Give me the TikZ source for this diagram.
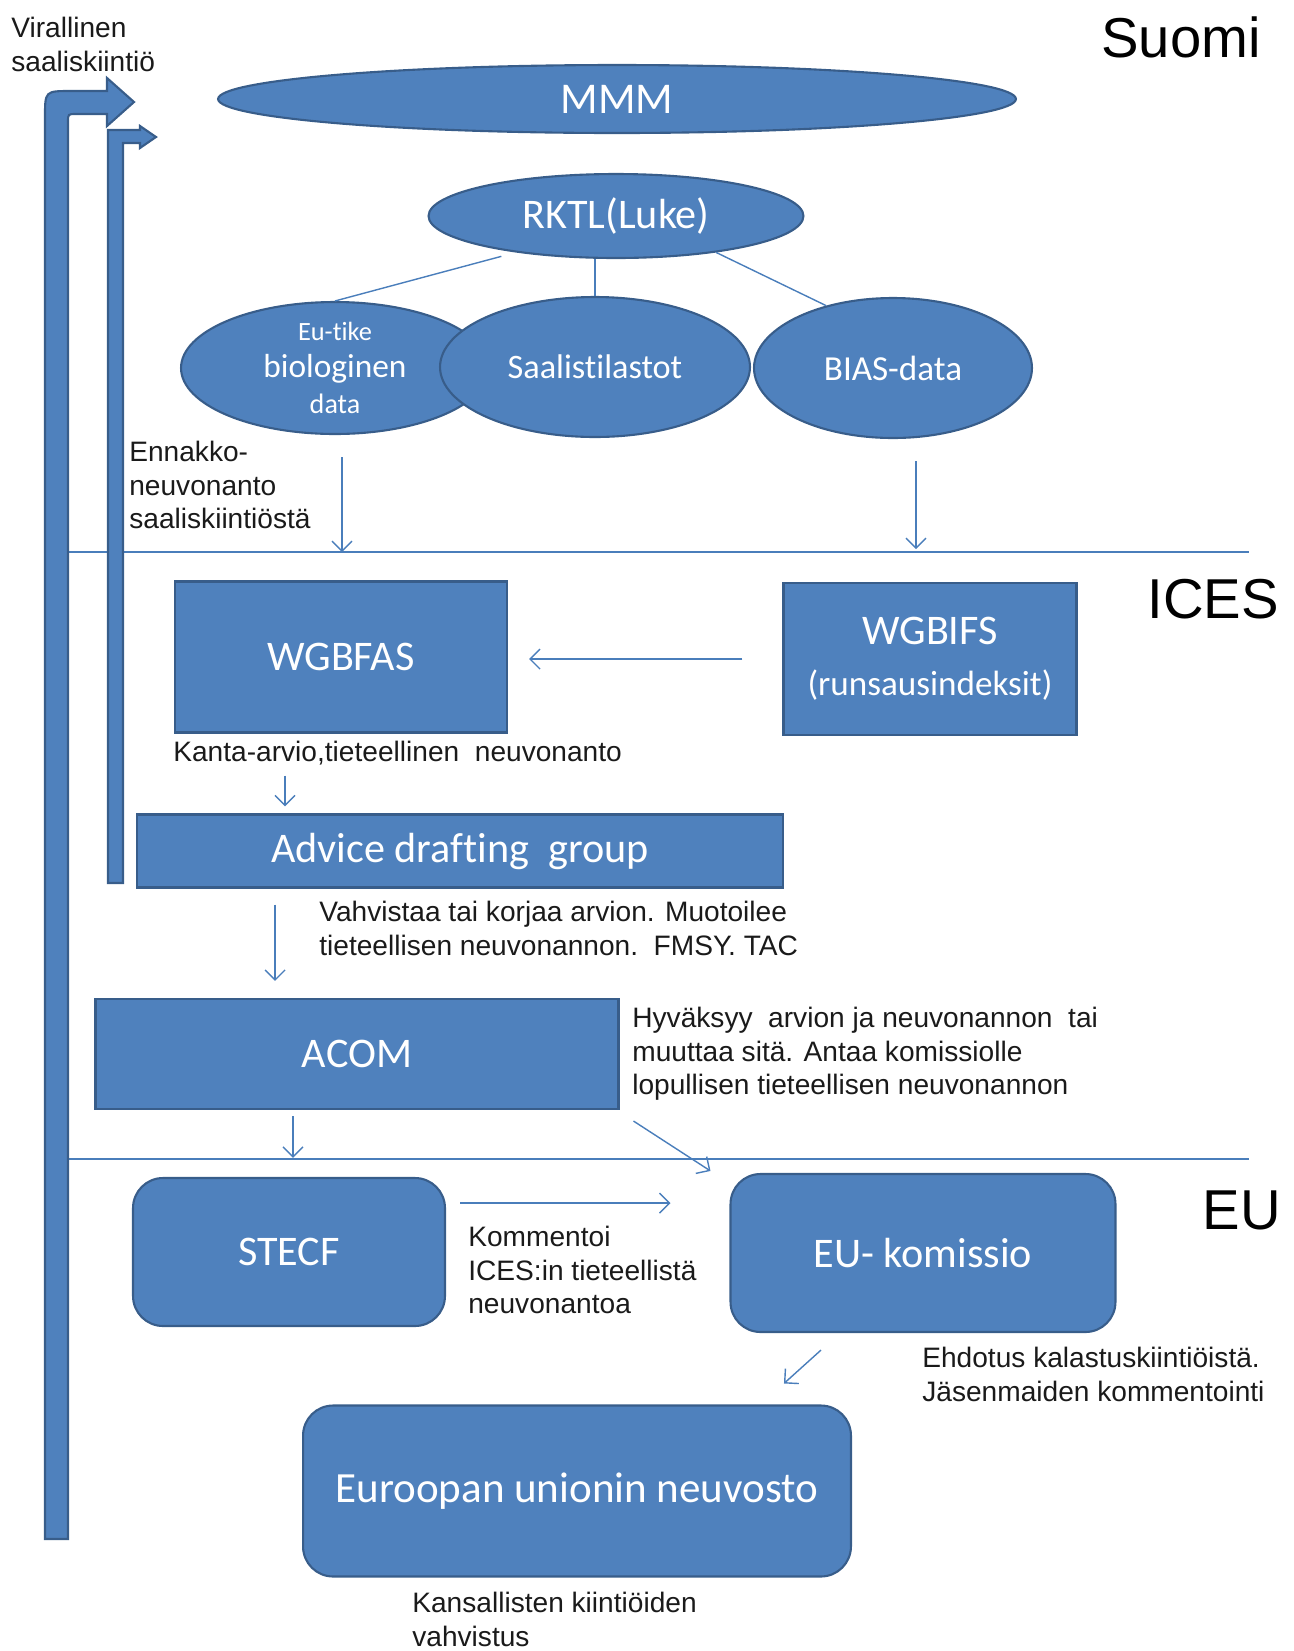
\documentclass[tikz,border=0pt]{standalone}
\usepackage{fontspec}
\setmainfont{Liberation Sans}
\newfontfamily\calibri[Ligatures={NoCommon}]{Carlito}
\usepackage{tikz}
\usetikzlibrary{shapes.geometric, arrows.meta}
\definecolor{officeblue}{HTML}{4F81BD}
\definecolor{officeline}{HTML}{385D8A}
\definecolor{connline}{HTML}{4A7EBB}
\definecolor{labeltext}{HTML}{1A1A1A}

\begin{document}
\begin{tikzpicture}[x=0.02cm, y=-0.02cm]
\tikzstyle{blob} = [ellipse, inner sep=0pt, draw=officeline, line width=1.2pt, fill=officeblue, text=white, align=center]
\tikzstyle{box} = [rectangle, inner sep=0pt, draw=officeline, line width=1.2pt, fill=officeblue, text=white, align=center, font=\calibri\fontsize{24}{29}\selectfont]
\tikzstyle{rbox} = [box, rounded corners=0.6cm]
\tikzstyle{note} = [inner sep=0pt, anchor=north west, align=left, text=labeltext, font=\fontsize{16}{19}\selectfont]
\tikzstyle{region} = [inner sep=0pt, text=black, font=\fontsize{32}{38}\selectfont]
\tikzstyle{arrow} = [draw=connline, line width=0.8pt, ->, >={Straight Barb[length=0.2cm, width=0.4cm]}]
\tikzstyle{link} = [draw=connline, line width=0.8pt]
\tikzstyle{bigarrow} = [fill=officeblue, draw=officeline, line width=1.2pt]

\useasboundingbox (0,0) rectangle (1294,1651);

\node (suomi) [region] at (1181,37) {Suomi};
\node (ices) [region] at (1213,599) {ICES};
\node (eu) [region] at (1242,1210) {EU};

\coordinate (sepL1) at (68,552);
\coordinate (sepR1) at (1249,552);
\coordinate (sepL2) at (68,1159);
\coordinate (sepR2) at (1249,1159);
\draw [link] (sepL1) -- (sepR1);
\draw [link] (sepL2) -- (sepR2);

\node (mmm) [blob, minimum width=15.96cm, minimum height=1.36cm, font=\calibri\fontsize{25}{30}\selectfont] at (617,99) {MMM};
\node (rktl) [blob, minimum width=7.5cm, minimum height=1.68cm, font=\calibri\fontsize{24}{29}\selectfont] at (616,216) {RKTL(Luke)};
\node (eutike) [blob, minimum width=6.16cm, minimum height=2.64cm, font=\calibri\fontsize{19}{21}\selectfont] at (335,368) {{\fontsize{15}{21}\selectfont Eu-tike}\\biologinen\\{\fontsize{16}{21}\selectfont data}};
\node (saalis) [blob, minimum width=6.2cm, minimum height=2.8cm, font=\calibri\fontsize{19.5}{24}\selectfont] at (595,367) {Saalistilastot};
\node (bias) [blob, minimum width=5.56cm, minimum height=2.8cm, font=\calibri\fontsize{20}{24}\selectfont] at (893,368) {BIAS-data};

\node (wgbfas) [box, minimum width=6.64cm, minimum height=3.02cm] at (341,657) {WGBFAS};
\node (wgbifs) [box, minimum width=5.86cm, minimum height=3.04cm] at (930,659) {WGBIFS\\{\fontsize{20}{24}\selectfont(runsausindeksit)}};
\node (adg) [box, minimum width=12.94cm, minimum height=1.46cm] at (460,851) {Advice drafting\ \ group};
\node (acom) [box, minimum width=10.46cm, minimum height=2.2cm] at (357,1054) {ACOM};
\node (stecf) [rbox, minimum width=6.24cm, minimum height=2.96cm] at (289,1252) {STECF};
\node (eukom) [rbox, minimum width=7.7cm, minimum height=3.16cm] at (923,1253) {EU- komissio};
\node (neuvosto) [rbox, minimum width=10.96cm, minimum height=3.42cm, font=\calibri\fontsize{24.5}{29}\selectfont] at (577,1491) {Euroopan unionin neuvosto};

\node (virallinen) [note] at (11,17) {Virallinen\\saaliskiintiö};
\node (ennakko) [note] at (129,441) {Ennakko-\\neuvonanto\\saaliskiintiöstä};
\node (kanta) [note] at (173,741) {Kanta-arvio,tieteellinen\ \ neuvonanto};
\node (vahvistaa) [note] at (319,901) {Vahvistaa tai korjaa arvion. Muotoilee\\tieteellisen neuvonannon.\ \ FMSY. TAC};
\node (hyvaksyy) [note] at (632,1007) {Hyväksyy\ \ arvion ja neuvonannon\ \ tai\\muuttaa sitä. Antaa komissiolle\\lopullisen tieteellisen neuvonannon};
\node (kommentoi) [note] at (468,1226) {Kommentoi\\ICES:in tieteellistä\\neuvonantoa};
\node (ehdotus) [note] at (922,1347) {Ehdotus kalastuskiintiöistä.\\Jäsenmaiden kommentointi};
\node (kansallisten) [note] at (412,1592) {Kansallisten kiintiöiden\\vahvistus};

\draw [bigarrow] (45,1539) -- (45,117) .. controls (45,91) .. (71,91) -- (107,91) -- (107,78) -- (134,102) -- (107,126) -- (107,114) -- (76,114) .. controls (68,114) .. (68,122) -- (68,1539) -- cycle;
\draw [bigarrow] (108,883) -- (108,130) -- (140,130) -- (140,126) -- (156,137) -- (140,148) -- (140,143) -- (123,143) -- (123,883) -- cycle;

\draw [link, shorten <=0.3cm] (rktl.200) -- (eutike.north);
\draw [link] (rktl.south -| saalis.north) -- (saalis.north);
\draw [link] (rktl.-20) -- (bias.137);

\draw [arrow, shorten <=0.44cm] ([xshift=0.14cm]eutike.south) -- ([xshift=0.14cm]eutike.south |- sepL1);
\draw [arrow, shorten <=0.44cm, shorten >=0.06cm] ([xshift=0.46cm]bias.south) -- ([xshift=0.46cm]bias.south |- sepL1);
\draw [arrow, shorten <=0.8cm, shorten >=0.42cm] (wgbifs.west) -- (wgbifs.west -| wgbfas.east);
\draw [arrow, shorten <=0.84cm, shorten >=0.14cm] ([xshift=-1.12cm]wgbfas.south) -- ([xshift=-1.12cm]wgbfas.south |- adg.north);
\draw [arrow, shorten <=0.32cm, shorten >=0.34cm] ([xshift=-1.64cm]acom.north |- adg.south) -- ([xshift=-1.64cm]acom.north);
\draw [arrow, shorten <=0.12cm, shorten >=0.38cm] ([xshift=0.08cm]stecf.north |- acom.south) -- ([xshift=0.08cm]stecf.north);
\draw [arrow] ([xshift=0.28cm, yshift=-0.22cm]acom.south east) -- ([xshift=-0.38cm, yshift=0.04cm]eukom.north west);
\draw [arrow, shorten <=0.28cm, shorten >=1.18cm] ([yshift=0.98cm]stecf.east) -- ([yshift=0.98cm]stecf.east -| eukom.west);
\draw [arrow] ([xshift=-2.04cm, yshift=-0.34cm]eukom.south) -- ([xshift=4.14cm, yshift=0.42cm]neuvosto.north);
\end{tikzpicture}
\end{document}
